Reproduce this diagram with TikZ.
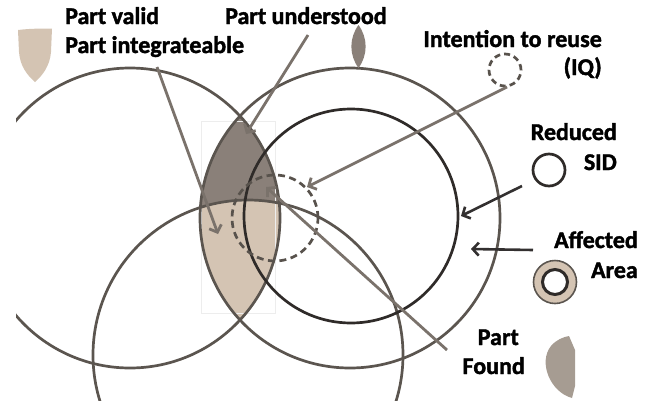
\documentclass[tikz,border=0pt]{standalone}
\usepackage{fontspec}
\setmainfont{Carlito}[BoldFeatures={FakeBold=1.6}]
\usetikzlibrary{arrows.meta}
\definecolor{ring}{HTML}{5B554F}
\definecolor{darkring}{HTML}{2F2B29}
\definecolor{arrgray}{HTML}{7A726B}
\definecolor{arrdark}{HTML}{333030}
\definecolor{beige}{HTML}{D4C4B3}
\definecolor{lensdark}{HTML}{8A8079}
\definecolor{foundgray}{HTML}{A69C92}
\definecolor{dashgray}{HTML}{58524C}
\begin{document}
\begin{tikzpicture}[x=1pt,y=-1pt,
  lbl/.style={inner sep=0pt, font=\fontsize{24}{24}\selectfont\bfseries, text=black},
  bigring/.style={draw=ring, line width=2.7pt},
  sidring/.style={draw=darkring, line width=2.7pt},
  dashring/.style={draw=dashgray, line width=2.7pt, dash pattern=on 7pt off 4.5pt},
  arrg/.style={draw=arrgray, line width=2.8pt, -{Straight Barb[length=6pt,width=13pt]}},
  arrd/.style={draw=arrdark, line width=2.6pt, -{Straight Barb[length=6pt,width=13pt]}}]
\useasboundingbox (0,0) rectangle (654,400);
% lens fills
\begin{scope}
  \clip (130,218) circle[radius=150pt];
  \clip (350,218) circle[radius=150pt];
  \fill[lensdark] (0,0) rectangle (654,400);
  \clip (248,355) circle[radius=155pt];
  \fill[beige] (0,0) rectangle (654,400);
\end{scope}
\draw[black!7, line width=0.6pt] (201,121) rectangle (275,313);
% circles
\begin{scope}
  \clip (16,0) rectangle (654,400);
  \draw[bigring] (130,218) circle[radius=150pt];
  \draw[bigring] (350,218) circle[radius=150pt];
  \draw[bigring] (248,355) circle[radius=155pt];
  \draw[sidring] (351,216) circle[radius=107pt];
\end{scope}
\draw[dashring] (275,218) circle[radius=43pt];
% legend icons
\fill[beige] (18,30) .. controls (30,28.5) and (42,28.5) .. (52,28.5) -- (51,52) .. controls (50,66) and (42,76) .. (35,82) .. controls (27,75) and (20,66) .. (19,52) -- cycle;
\fill[lensdark] (358.5,25) .. controls (368,38) and (368,55) .. (358.5,68) .. controls (349,55) and (349,38) .. (358.5,25) -- cycle;
\draw[dashring, dash pattern=on 6pt off 4pt] (505,70) circle[radius=16pt];
\draw[sidring] (549,170) circle[radius=16pt];
\fill[beige] (555,282) circle[radius=21pt];
\draw[ring, line width=1.6pt] (555,282) circle[radius=21.5pt];
\fill[white] (555,282) circle[radius=12pt];
\draw[darkring, line width=3pt] (555,282) circle[radius=12.5pt];
\fill[foundgray] (569,336) -- (575,350) -- (575,386) -- (572,398) .. controls (550,392) and (538,362) .. (551,346) .. controls (556,340) and (563,337) .. (569,336) -- cycle;
% labels
\node[lbl, anchor=base west] (pv) at (65,24) {Part valid};
\node[lbl, anchor=base west] (pi) at (65,53) {Part integrateable};
\node[lbl, anchor=base west] (pu) at (225,24) {Part understood};
\node[lbl, anchor=base east] (ir) at (602,47) {Intention to reuse};
\node[lbl, anchor=base east] (iq) at (602,75) {(IQ)};
\node[lbl, anchor=base east] (rd) at (617,140) {Reduced};
\node[lbl, anchor=base east] (sid) at (617,170) {SID};
\node[lbl, anchor=base east] (af) at (638,248) {Affected};
\node[lbl, anchor=base east] (ar) at (638,278) {Area};
\node[lbl, anchor=base east] (pf) at (519,345) {Part};
\node[lbl, anchor=base east] (fd) at (525,374) {Found};
% arrow end points
\coordinate (pvS) at (157,67);
\coordinate (pvE) at (218,234);
\coordinate (puS) at (308,35);
\coordinate (puE) at (246,134);
\coordinate (iqS) at (507,87);
\coordinate (iqE) at (307,187);
\coordinate (pfS) at (447,350);
\coordinate (pfE) at (266,187);
\coordinate (sdS) at (522,186);
\coordinate (sdE) at (461,216);
\coordinate (afS) at (533,250);
\coordinate (afE) at (471,249);
% arrows
\draw[arrg] (pvS) -- (pvE);
\draw[arrg] (puS) -- (puE);
\draw[arrg] (iqS) -- (iqE);
\draw[arrg] (pfS) -- (pfE);
\draw[arrd] (sdS) -- (sdE);
\draw[arrd] (afS) -- (afE);
\end{tikzpicture}
\end{document}
